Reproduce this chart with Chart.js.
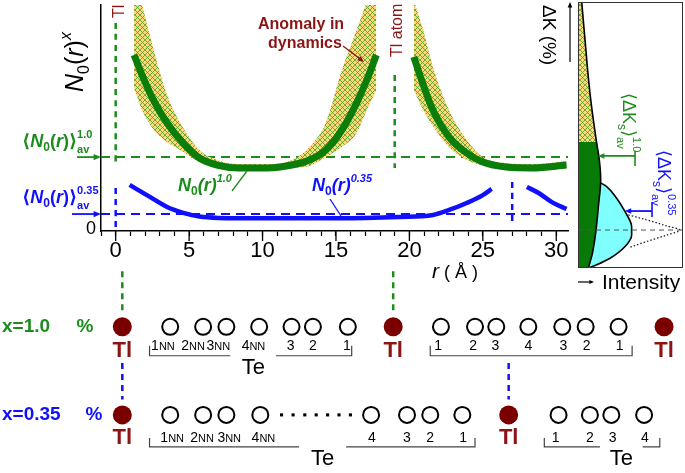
<!DOCTYPE html>
<html>
<head>
<meta charset="utf-8">
<script src="https://cdn.jsdelivr.net/npm/chart.js@4.4.0/dist/chart.umd.min.js"></script>
<style>
  html, body { margin: 0; padding: 0; background: #fff; }
  #wrap { position: relative; width: 685px; height: 473px; overflow: hidden; }
  canvas { position: absolute; }
  #main { left: 0px; top: 0px; }
  #atoms { left: 0px; top: 255px; }
  #panel { left: 575px; top: 0px; }
</style>
</head>
<body>
<div id="wrap">
  <canvas id="main" width="578" height="290"></canvas>
  <canvas id="atoms" width="685" height="218"></canvas>
  <canvas id="panel" width="110" height="292"></canvas>
</div>
<script>
// ---- data ----
// r in Angstrom, N0(r)^x in arbitrary units (0 .. 100 = top of the plot)
const rGreen1 = [1.25, 1.8, 2.5, 3.5, 4.6, 5.7, 6.9, 8.4, 10.3, 12, 13.2, 14.3, 15.4, 16.4, 17.1, 17.75];
const nGreen1 = [77.9, 69.0, 58.8, 47.8, 38.9, 32.3, 29.2, 27.9, 27.9, 29.2, 31.4, 35.8, 44.7, 56.6, 66.8, 77.9];
const upGreen1 = [113, 100, 82.3, 60.2, 45.6, 35.8, 31.4, 29.6, 29.6, 31.4, 37.2, 47.8, 71.2, 88.9, 102, 120];
const loGreen1 = [63.3, 53.5, 45.6, 39.4, 35.0, 30.5, 27.9, 26.5, 26.5, 27.9, 28.8, 32.7, 37.2, 43.4, 53.5, 62.4];

const rGreen2 = [20.3, 20.9, 21.6, 22.7, 23.9, 25, 26.6, 28.4, 30.7];
const nGreen2 = [77, 65.5, 53.5, 41.6, 34.5, 30.5, 28.3, 27.9, 29.2];
const upGreen2 = [102, 89.8, 72.6, 53.5, 40.3, 32.7, 30, 29.6, 31];
const loGreen2 = [62.4, 54, 46.5, 37.2, 31.4, 29, 27.4, 26.5, 27.9];

const rBlue1 = [0.95, 2.3, 3.5, 4.6, 5.7, 7, 10, 15, 19.3, 21.6, 22.7, 23.9, 25, 25.6];
const nBlue1 = [20.4, 15.2, 10.6, 8, 6.4, 5.8, 5.6, 5.6, 6.2, 7.1, 9.3, 12.4, 15.9, 18.6];
const rBlue2 = [28.0, 28.8, 29.7, 30.7];
const nBlue2 = [19.5, 16.8, 12.8, 9.7];

const avgGreen = 32.7;
const avgBlue = 7.5;

// vertical dashed markers: [r, from, to]
const tlGreenMarks = [[0, 92, 29.2], [19, 69, 27.9]];
const tlBlueMarks = [[0, 19, 1.8], [27, 21.7, 4.4]];

const xTicks = [0, 5, 10, 15, 20, 25, 30];

// right panel: intensity (0..1) vs Delta K on the same vertical scale
const dkGreenI = [0.035, 0.05, 0.067, 0.089, 0.114, 0.146, 0.176, 0.203, 0.216, 0.194, 0.168, 0.137, 0.098];
const dkGreenV = [101.5, 93.4, 84.5, 72.6, 61, 49.1, 39.4, 31.4, 22.6, 10.8, -1, -9.9, -16.5];
const dkHatchEnd = 6; // index where the hatched part stops
const dkCyanI = [0.21, 0.273, 0.368, 0.448, 0.511, 0.511, 0.448, 0.305, 0.178, 0.098];
const dkCyanV = [21.4, 19.6, 14.5, 8.5, 1.9, -1.8, -6.9, -12.1, -15, -16.5];
const dkDotI = [0.479, 0.654, 0.845, 0.971, 0.845, 0.654, 0.495];
const dkDotV = [7.1, 4.9, 2.2, 0.4, -1.8, -4.7, -7.2];
const dkZero = 0.4;
const dkAvgGreen = 33.2, dkAvgBlue = 8.8;

// atom chains, positions in Angstrom along the same r axis
const tlRow1 = [0, 19, 38];
const teRow1 = [3.36, 5.67, 7.3, 9.6, 11.87, 13.37, 15.82, 22.35, 24.74, 26.23, 28.48, 30.86, 32.5, 34.81];
const lblRow1 = ['1NN', '2NN', '3NN', '4NN', '3', '2', '1', '1', '2', '3', '4', '3', '2', '1'];
const lblRow1R = [2.85, 4.97, 6.74, 9.2, 11.8, 13.37, 15.75, 22.15, 24.6, 26.17, 28.48, 30.93, 32.57, 34.88];
const tlRow2 = [0, 27.1];
const teRow2 = [3.36, 5.67, 7.3, 9.68, 17.45, 19.97, 21.6, 23.85, 30.6, 32.8, 34.3, 36.6];
const dotsRow2 = [11.17, 11.98, 12.8, 13.6, 14.4, 15.2, 16.0];
const lblRow2 = ['1NN', '2NN', '3NN', '4NN', '4', '3', '2', '1', '1', '2', '3', '4'];
const lblRow2R = [3.5, 5.6, 7.5, 9.9, 17.5, 19.97, 21.6, 23.9, 30.4, 32.8, 34.4, 36.65];
// brackets: [start, end, gapStart, gapEnd]
const brRow1 = [[1.91, 16.09, 7.57, 10.77], [21.6, 35.76]];
const brRow2 = [[1.91, 24.74, 12.4, 15.7], [29.6, 37.7, 33.5, 36.5]];
const teTxtRow1 = [9.2];
const teTxtRow2 = [14.05, 35.0];

// ---- styles ----
const F = "'Liberation Sans', Arial, 'DejaVu Sans', sans-serif";
const GREEN = '#0b7d0b';
const GREEN_T = '#1c8c1c';
const BLUE = '#1010ff';
const DRED = '#8b1515';
const TL = '#7a0000';

function pts(xs, ys) { return xs.map((v, i) => ({ x: v, y: ys[i] })); }

function hatch(ctx) {
  const c = document.createElement('canvas');
  c.width = 5; c.height = 5;
  const g = c.getContext('2d');
  g.fillStyle = '#fdd877';
  g.fillRect(0, 0, 5, 5);
  g.strokeStyle = '#4f9c2c';
  g.lineWidth = 0.8;
  g.beginPath();
  g.moveTo(0, 0); g.lineTo(5, 5);
  g.moveTo(5, 0); g.lineTo(0, 5);
  g.stroke();
  return ctx.createPattern(c, 'repeat');
}

function arrow(ctx, x1, y1, x2, y2, color, w, head) {
  const a = Math.atan2(y2 - y1, x2 - x1);
  ctx.save();
  ctx.strokeStyle = color; ctx.fillStyle = color; ctx.lineWidth = w;
  ctx.beginPath(); ctx.moveTo(x1, y1);
  ctx.lineTo(x2 - Math.cos(a) * head * 0.8, y2 - Math.sin(a) * head * 0.8); ctx.stroke();
  ctx.beginPath();
  ctx.moveTo(x2, y2);
  ctx.lineTo(x2 - head * Math.cos(a - 0.4), y2 - head * Math.sin(a - 0.4));
  ctx.lineTo(x2 - head * Math.cos(a + 0.4), y2 - head * Math.sin(a + 0.4));
  ctx.closePath(); ctx.fill();
  ctx.restore();
}

// draw text made of runs: {t, f, dy, hold}
function runs(ctx, x, y, ang, parts, color) {
  ctx.save();
  ctx.translate(x, y); ctx.rotate(ang);
  ctx.fillStyle = color; ctx.textAlign = 'left'; ctx.textBaseline = 'alphabetic';
  let cx = 0, held = 0;
  for (const p of parts) {
    ctx.font = p.f;
    ctx.fillText(p.t, cx, p.dy || 0);
    const w = ctx.measureText(p.t).width;
    if (p.hold) held = Math.max(held, w);
    else { cx += Math.max(w, held); held = 0; }
  }
  ctx.restore();
}

function line(ctx, x1, y1, x2, y2, color, w, dash) {
  ctx.save();
  ctx.strokeStyle = color; ctx.lineWidth = w;
  if (dash) ctx.setLineDash(dash);
  ctx.beginPath(); ctx.moveTo(x1, y1); ctx.lineTo(x2, y2); ctx.stroke();
  ctx.restore();
}

// ---- main chart ----
const mctx = document.getElementById('main').getContext('2d');
const pat = hatch(mctx);

const base = { pointRadius: 0, cubicInterpolationMode: 'monotone', fill: false };
const mainSets = [
  { ...base, data: pts(rGreen1, nGreen1), borderColor: GREEN, borderWidth: 7, order: 1 },
  { ...base, data: pts(rGreen2, nGreen2), borderColor: GREEN, borderWidth: 7, order: 1 },
  { ...base, data: pts(rBlue1, nBlue1), borderColor: BLUE, borderWidth: 4.5, order: 2 },
  { ...base, data: pts(rBlue2, nBlue2), borderColor: BLUE, borderWidth: 4.5, order: 2 },
  { ...base, data: pts(rGreen1, upGreen1), borderWidth: 0, borderColor: 'transparent', fill: '+1', backgroundColor: pat, order: 4 },
  { ...base, data: pts(rGreen1, loGreen1), borderWidth: 0, borderColor: 'transparent', order: 4 },
  { ...base, data: pts(rGreen2, upGreen2), borderWidth: 0, borderColor: 'transparent', fill: '+1', backgroundColor: pat, order: 4 },
  { ...base, data: pts(rGreen2, loGreen2), borderWidth: 0, borderColor: 'transparent', order: 4 },
  { ...base, data: [{ x: -1, y: avgBlue }, { x: 30.8, y: avgBlue }], borderColor: BLUE, borderWidth: 2, borderDash: [9, 6], order: 3 },
  { ...base, data: [{ x: -1, y: avgGreen }, { x: 30.8, y: avgGreen }], borderColor: GREEN_T, borderWidth: 2, borderDash: [9, 6], order: 6 }
];
tlGreenMarks.forEach(m => mainSets.push({ ...base, data: [{ x: m[0], y: m[1] }, { x: m[0], y: m[2] }], borderColor: GREEN_T, borderWidth: 2.5, borderDash: [6, 5], order: 6 }));
tlBlueMarks.forEach(m => mainSets.push({ ...base, data: [{ x: m[0], y: m[1] }, { x: m[0], y: m[2] }], borderColor: BLUE, borderWidth: 2.5, borderDash: [6, 5], order: 6 }));

const mainDeco = {
  id: 'mainDeco',
  afterDraw(chart) {
    const { ctx, scales: { x, y } } = chart;
    // longer marks for the labelled ticks
    xTicks.forEach(v => line(ctx, x.getPixelForValue(v), x.top, x.getPixelForValue(v), x.top + 10, '#000', 1.3));

    ctx.save();
    ctx.font = '18px ' + F; ctx.fillStyle = '#000';
    ctx.textAlign = 'right'; ctx.textBaseline = 'middle';
    ctx.fillText('0', x.left - 5, y.getPixelForValue(0) - 2);
    ctx.restore();

    // axis title
    runs(ctx, 83, 92, -Math.PI / 2, [
      { t: 'N', f: 'italic 25px ' + F },
      { t: '0', f: '16px ' + F, dy: 6 },
      { t: '(', f: '25px ' + F },
      { t: 'r', f: 'italic 25px ' + F },
      { t: ')', f: '25px ' + F },
      { t: 'x', f: 'italic 16px ' + F, dy: -12 }
    ], '#000');

    // averages on the left
    const gy = y.getPixelForValue(avgGreen), by = y.getPixelForValue(avgBlue);
    arrow(ctx, 77, gy, x.left, gy, GREEN_T, 1.8, 8);
    arrow(ctx, 72, by, x.left, by, BLUE, 1.8, 8);
    const avgLbl = (sup) => [
      { t: '⟨', f: 'bold 18px ' + F },
      { t: 'N', f: 'bold italic 18px ' + F },
      { t: '0', f: 'bold 12px ' + F, dy: 4 },
      { t: '(', f: 'bold 18px ' + F },
      { t: 'r', f: 'bold italic 18px ' + F },
      { t: ')', f: 'bold 18px ' + F },
      { t: '⟩', f: 'bold 18px ' + F },
      { t: 'av', f: 'bold 11px ' + F, dy: 6, hold: true },
      { t: sup, f: 'bold 11px ' + F, dy: -9 }
    ];
    runs(ctx, 22, gy - 10, 0, avgLbl('1.0'), GREEN_T);
    runs(ctx, 22, by - 11, 0, avgLbl('0.35'), BLUE);

    // curve labels
    const nLbl = (sup) => [
      { t: 'N', f: 'bold italic 18px ' + F },
      { t: '0', f: 'bold 12px ' + F, dy: 4 },
      { t: '(', f: 'bold italic 18px ' + F },
      { t: 'r', f: 'bold italic 18px ' + F },
      { t: ')', f: 'bold italic 18px ' + F },
      { t: sup, f: 'bold italic 11px ' + F, dy: -9 }
    ];
    runs(ctx, 178, 191, 0, nLbl('1.0'), GREEN_T);
    line(ctx, 232, 191, 247, 171, GREEN_T, 1.3);
    runs(ctx, 312, 191, 0, nLbl('0.35'), BLUE);
    line(ctx, 330, 199, 341, 216, BLUE, 1.3);

    // Tl markers
    runs(ctx, 124, 18, -Math.PI / 2, [{ t: 'Tl atom', f: '16px ' + F }], DRED);
    runs(ctx, x.getPixelForValue(19) + 7, 57, -Math.PI / 2, [{ t: 'Tl atom', f: '16px ' + F }], DRED);

    // anomaly note
    ctx.save();
    ctx.font = 'bold 16px ' + F; ctx.fillStyle = DRED; ctx.textAlign = 'center';
    ctx.fillText('Anomaly in', 301, 29);
    ctx.fillText('dynamics', 305, 48);
    ctx.restore();
    arrow(ctx, 343, 46, 364, 62, DRED, 1.3, 7);

    // x title
    runs(ctx, 432, 278, 0, [
      { t: 'r', f: 'italic 21px ' + F },
      { t: ' ( Å )', f: '18px ' + F }
    ], '#000');

    // Delta K label
    runs(ctx, 543, 5, Math.PI / 2, [{ t: 'ΔK (%)', f: '19px ' + F }], '#000');
    arrow(ctx, 570, 62, 570, 2, '#000', 1.2, 6);
  }
};

new Chart(mctx, {
  type: 'line',
  data: { datasets: mainSets },
  options: {
    responsive: false,
    animation: false,
    layout: { padding: { left: 0, top: 5, right: 10, bottom: 0 } },
    plugins: { legend: { display: false }, tooltip: { enabled: false } },
    scales: {
      x: {
        type: 'linear', min: -1, max: 30.8,
        afterFit: s => { s.height = 59; },
        grid: { drawOnChartArea: false, drawTicks: true, tickLength: 5, tickColor: '#000', tickWidth: 1.2 },
        border: { color: '#000', width: 1.5 },
        ticks: {
          stepSize: 1, autoSkip: false, maxRotation: 0, includeBounds: false, padding: 2,
          color: '#000', font: { family: F, size: 22 },
          callback: v => (xTicks.includes(v) ? String(v) : '')
        }
      },
      y: {
        type: 'linear', min: 0, max: 100,
        afterFit: s => { s.width = 101; },
        grid: { drawOnChartArea: false, drawTicks: false },
        border: { color: '#000', width: 1.5 },
        ticks: { display: false }
      }
    }
  },
  plugins: [mainDeco]
});

// ---- right panel ----
const pctx = document.getElementById('panel').getContext('2d');
const pat2 = hatch(pctx);
const pBase = { pointRadius: 0, showLine: true, cubicInterpolationMode: 'monotone', fill: false };
const gAll = pts(dkGreenI, dkGreenV);
const panelDeco = {
  id: 'panelDeco',
  afterDraw(chart) {
    const { ctx, chartArea: a, scales: { x, y } } = chart;
    ctx.save();
    ctx.strokeStyle = '#333'; ctx.lineWidth = 1;
    ctx.strokeRect(a.left + 0.5, a.top + 0.5, a.right - a.left - 1, a.bottom - a.top - 1);
    ctx.restore();

    const lbl = (sup) => [
      { t: '⟨', f: '18px ' + F },
      { t: 'ΔK', f: '18px ' + F },
      { t: 's', f: '12px ' + F, dy: 5 },
      { t: '⟩', f: '18px ' + F },
      { t: 'av', f: '11px ' + F, dy: 6, hold: true },
      { t: sup, f: '11px ' + F, dy: -10 }
    ];
    runs(ctx, 48, 93, Math.PI / 2, lbl('1.0'), GREEN_T);
    runs(ctx, 83, 150, Math.PI / 2, lbl('0.35'), BLUE);

    const gy = y.getPixelForValue(dkAvgGreen), by = y.getPixelForValue(dkAvgBlue);
    arrow(ctx, x.getPixelForValue(0.543), gy, x.getPixelForValue(0.19), gy, GREEN_T, 1.6, 7);
    line(ctx, x.getPixelForValue(0.543), gy - 5, x.getPixelForValue(0.543), gy + 10, GREEN_T, 1.6);
    arrow(ctx, x.getPixelForValue(0.705), by, x.getPixelForValue(0.445), by, BLUE, 1.8, 7);
    line(ctx, x.getPixelForValue(0.705), by - 9, x.getPixelForValue(0.705), by + 6, BLUE, 1.6);

    arrow(ctx, 3, 282, 19, 282, '#000', 1.2, 5);
    ctx.save();
    ctx.font = '21px ' + F; ctx.fillStyle = '#000'; ctx.textAlign = 'left';
    ctx.fillText('Intensity', 27, 289);
    ctx.restore();
  }
};

new Chart(pctx, {
  type: 'scatter',
  data: {
    datasets: [
      { ...pBase, data: [{ x: 0, y: dkZero }, { x: 1, y: dkZero }], borderColor: '#555', borderWidth: 1, borderDash: [5, 4], cubicInterpolationMode: 'default', order: 0 },
      { ...pBase, data: pts(dkDotI, dkDotV), borderColor: '#222', borderWidth: 1.3, borderDash: [1.5, 2], order: 1 },
      { ...pBase, data: gAll, borderColor: '#000', borderWidth: 1.6, order: 2 },
      { ...pBase, data: gAll.slice(dkHatchEnd), borderWidth: 0, borderColor: 'transparent', fill: { value: 0 }, backgroundColor: '#087a08', order: 4 },
      { ...pBase, data: gAll.slice(0, dkHatchEnd + 1), borderWidth: 0, borderColor: 'transparent', fill: { value: 0 }, backgroundColor: pat2, order: 5 },
      { ...pBase, data: pts(dkCyanI, dkCyanV), borderColor: '#000', borderWidth: 1.6, fill: { value: 0 }, backgroundColor: '#80ffff', order: 6 }
    ]
  },
  options: {
    responsive: false,
    animation: false,
    indexAxis: 'y',
    layout: { padding: { left: 3, top: 2, right: 2, bottom: 24 } },
    plugins: { legend: { display: false }, tooltip: { enabled: false } },
    scales: {
      x: { type: 'linear', min: 0, max: 1, display: false },
      y: { type: 'linear', min: -16.4, max: 101.3, display: false }
    }
  },
  plugins: [panelDeco]
});

// ---- atom chains ----
const actx = document.getElementById('atoms').getContext('2d');
const row = (xs, lvl) => xs.map(v => ({ x: v, y: lvl }));
const aBase = { showLine: false, borderWidth: 0 };
const conn = (r, a, b, c) => ({ data: [{ x: r, y: a }, { x: r, y: b }], showLine: true, pointRadius: 0, borderColor: c, borderWidth: 2.5, borderDash: [6, 5] });

function numLabel(ctx, t, px, py) {
  if (t.endsWith('NN')) {
    ctx.font = '14px ' + F; const w1 = ctx.measureText(t[0]).width;
    ctx.font = '11px ' + F; const w2 = ctx.measureText('NN').width;
    const x0 = px - (w1 + w2) / 2;
    ctx.textAlign = 'left';
    ctx.font = '14px ' + F; ctx.fillText(t[0], x0, py);
    ctx.font = '11px ' + F; ctx.fillText('NN', x0 + w1, py + 1);
  } else {
    ctx.font = '14px ' + F; ctx.textAlign = 'center';
    ctx.fillText(t, px, py);
  }
}

function bracket(ctx, x, b, yl, yt) {
  const p = v => x.getPixelForValue(v);
  ctx.save();
  ctx.strokeStyle = '#444'; ctx.lineWidth = 1.2;
  ctx.beginPath();
  ctx.moveTo(p(b[0]), yt); ctx.lineTo(p(b[0]), yl);
  if (b.length > 2) { ctx.lineTo(p(b[2]), yl); ctx.moveTo(p(b[3]), yl); }
  ctx.lineTo(p(b[1]), yl); ctx.lineTo(p(b[1]), yt);
  ctx.stroke();
  ctx.restore();
}

const atomDeco = {
  id: 'atomDeco',
  afterDatasetsDraw(chart) {
    const { ctx, scales: { x, y } } = chart;
    const y1 = y.getPixelForValue(1), y2 = y.getPixelForValue(0);
    ctx.save();
    ctx.textBaseline = 'middle';
    ctx.font = 'bold 19px ' + F; ctx.textAlign = 'left';
    ctx.fillStyle = GREEN_T; ctx.fillText('x=1.0', 2, y1);
    ctx.textAlign = 'center'; ctx.fillText('%', 85, y1);
    ctx.fillStyle = BLUE; ctx.textAlign = 'left'; ctx.fillText('x=0.35', 2, y2);
    ctx.textAlign = 'center'; ctx.fillText('%', 94, y2);

    ctx.font = 'bold 22px ' + F; ctx.fillStyle = DRED; ctx.textAlign = 'center';
    tlRow1.forEach(r => ctx.fillText('Tl', x.getPixelForValue(r), y1 + 24));
    tlRow2.forEach(r => ctx.fillText('Tl', x.getPixelForValue(r), y2 + 23));

    ctx.fillStyle = '#000';
    lblRow1.forEach((t, i) => numLabel(ctx, t, x.getPixelForValue(lblRow1R[i]), y1 + 19));
    lblRow2.forEach((t, i) => numLabel(ctx, t, x.getPixelForValue(lblRow2R[i]), y2 + 23));

    brRow1.forEach(b => bracket(ctx, x, b, y1 + 29, y1 + 19));
    brRow2.forEach(b => bracket(ctx, x, b, y2 + 32, y2 + 23));

    ctx.font = '22px ' + F; ctx.textAlign = 'center'; ctx.fillStyle = '#000';
    teTxtRow1.forEach(r => ctx.fillText('Te', x.getPixelForValue(r), y1 + 41));
    teTxtRow2.forEach(r => ctx.fillText('Te', x.getPixelForValue(r), y2 + 44));
    ctx.restore();
  }
};

new Chart(actx, {
  type: 'scatter',
  data: {
    datasets: [
      { ...aBase, data: row(tlRow1, 1), pointRadius: 9.5, backgroundColor: TL },
      { ...aBase, data: row(tlRow2, 0), pointRadius: 9.5, backgroundColor: TL },
      { data: row(teRow1, 1), pointRadius: 8, borderWidth: 2, borderColor: '#000', backgroundColor: '#fff' },
      { data: row(teRow2, 0), pointRadius: 8, borderWidth: 2, borderColor: '#000', backgroundColor: '#fff' },
      { ...aBase, data: row(dotsRow2, 0), pointStyle: 'rect', pointRadius: 2.2, backgroundColor: '#000' },
      conn(0, 1.629, 1.155, GREEN_T),
      conn(19, 1.629, 1.155, GREEN_T),
      conn(0, 0.588, 0.175, BLUE),
      conn(27.1, 0.588, 0.175, BLUE)
    ]
  },
  options: {
    responsive: false,
    animation: false,
    layout: { padding: 0 },
    plugins: { legend: { display: false }, tooltip: { enabled: false } },
    scales: {
      x: { type: 'linear', min: -7.877, max: 38.767, display: false },
      y: { type: 'linear', min: -0.546, max: 1.701, display: false }
    }
  },
  plugins: [atomDeco]
});
</script>
</body>
</html>
